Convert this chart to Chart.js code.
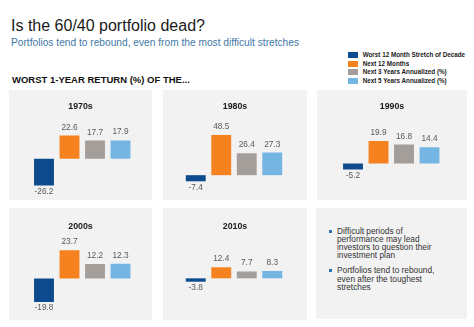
<!DOCTYPE html>
<html>
<head>
<meta charset="utf-8">
<script src="https://cdn.jsdelivr.net/npm/chart.js@4"></script>
<style>
  body { margin: 0; background: #fff; font-family: Arial, "Liberation Sans", sans-serif; }
  #page { position: relative; width: 474px; height: 327px; overflow: hidden; }
  .abs { position: absolute; white-space: nowrap; line-height: 1; }
  #title { left: 11px; top: 18px; font-size: 16px; color: #1a1a1a; }
  #subtitle { left: 11px; top: 38.3px; font-size: 10.2px; color: #3f79a8; }
  #heading { left: 12px; top: 74.5px; font-size: 9.5px; font-weight: bold; color: #111; }
  #legend { left: 348px; top: 51px; }
  .leg-row { height: 8.6px; display: flex; align-items: center; font-size: 6.3px; font-weight: bold; color: #1a1a1a; }
  .leg-box { width: 10px; height: 6px; margin-right: 4.7px; }
  .panel { position: absolute; background: #f2f2f2; }
  .panel canvas { position: absolute; left: 0; top: 0; }
  .ptitle { position: absolute; left: 0; right: 0; text-align: center; font-size: 8.8px; font-weight: bold; color: #1a1a1a; line-height: 1; }
  .notes { position: absolute; left: 21px; font-size: 8.3px; line-height: 8.2px; color: #333; }
  .notes::before { content: ""; position: absolute; left: -8.5px; top: 3px; width: 3px; height: 3px; background: #2e6fad; }
</style>
</head>
<body>
<div id="page">
  <div id="title" class="abs">Is the 60/40 portfolio dead?</div>
  <div id="subtitle" class="abs">Portfolios tend to rebound, even from the most difficult stretches</div>
  <div id="heading" class="abs">WORST 1-YEAR RETURN (%) OF THE...</div>
  <div id="legend" class="abs"></div>
  <div id="notes" class="panel" style="left:316px; top:208px; width:151px; height:111px;">
    <div class="notes" style="top:18.6px;">Difficult periods of<br>performance may lead<br>investors to question their<br>investment plan</div>
    <div class="notes" style="top:58.3px;">Portfolios tend to rebound,<br>even after the toughest<br>stretches</div>
  </div>
</div>
<script>
const decades = ['1970s', '1980s', '1990s', '2000s', '2010s'];
const seriesNames = ['Worst 12 Month Stretch of Decade', 'Next 12 Months', 'Next 3 Years Annualized (%)', 'Next 5 Years Annualized (%)'];
const worst12 = [-26.2, -7.4, -5.2, -19.8, -3.8];
const next12 = [22.6, 48.5, 19.9, 23.7, 12.4];
const next3y = [17.7, 26.4, 16.8, 12.2, 7.7];
const next5y = [17.9, 27.3, 14.4, 12.3, 8.3];
// each small chart has its own value axis range
const axisMin = [-35.6, -23.9, -27.8, -30.7, -41.2];
const axisMax = [37.9, 66.5, 38.6, 34, 45.3];

const colors = ['#0d4b8e', '#f5821f', '#a49e9a', '#74b5e3'];

// panel boxes: x, y, w, h, padding left/right, title offset
const panels = [
    { x: 9, y: 90, w: 143, h: 110, pl: 22.25, pr: 18.75, ty: 12.3 },
    { x: 163, y: 90, w: 144, h: 110, pl: 20, pr: 22, ty: 12.3 },
    { x: 317, y: 90, w: 150, h: 110, pl: 23.25, pr: 24.75, ty: 12.3 },
    { x: 9, y: 208, w: 143, h: 112, pl: 22.25, pr: 18.75, ty: 14.3 },
    { x: 163, y: 208, w: 144, h: 112, pl: 20, pr: 22, ty: 14.3 }
];

const page = document.getElementById('page');

// legend
const legend = document.getElementById('legend');
seriesNames.forEach((name, i) => {
    const row = document.createElement('div');
    row.className = 'leg-row';
    row.innerHTML = `<span class="leg-box" style="background:${colors[i]}"></span>${name}`;
    legend.appendChild(row);
});

// value labels above / below bars
const valueLabels = {
    id: 'valueLabels',
    afterDatasetsDraw(chart) {
        const ctx = chart.ctx;
        const meta = chart.getDatasetMeta(0);
        const values = chart.data.datasets[0].data;
        ctx.save();
        ctx.font = '8.3px Arial, "Liberation Sans", sans-serif';
        ctx.fillStyle = '#595959';
        ctx.textAlign = 'center';
        meta.data.forEach((bar, i) => {
            const v = values[i];
            if (v >= 0) {
                ctx.textBaseline = 'alphabetic';
                ctx.fillText(v.toFixed(1), bar.x, bar.y - 6);
            } else {
                ctx.textBaseline = 'top';
                ctx.fillText(v.toFixed(1), bar.x, bar.y + 2);
            }
        });
        ctx.restore();
    }
};

decades.forEach((decade, i) => {
    const p = panels[i];
    const box = document.createElement('div');
    box.className = 'panel';
    box.style.cssText = `left:${p.x}px; top:${p.y}px; width:${p.w}px; height:${p.h}px;`;
    const canvas = document.createElement('canvas');
    canvas.width = p.w;
    canvas.height = p.h;
    box.appendChild(canvas);
    const title = document.createElement('div');
    title.className = 'ptitle';
    title.style.top = p.ty + 'px';
    title.textContent = decade;
    box.appendChild(title);
    page.appendChild(box);

    new Chart(canvas.getContext('2d'), {
        type: 'bar',
        data: {
            labels: seriesNames,
            datasets: [{
                data: [worst12[i], next12[i], next3y[i], next5y[i]],
                backgroundColor: colors,
                barPercentage: 0.78,
                categoryPercentage: 1
            }]
        },
        options: {
            responsive: false,
            animation: false,
            events: [],
            layout: { padding: { left: p.pl, right: p.pr, top: 30, bottom: 5 } },
            plugins: {
                legend: { display: false },
                tooltip: { enabled: false }
            },
            scales: {
                x: { display: false },
                y: { display: false, min: axisMin[i], max: axisMax[i] }
            }
        },
        plugins: [valueLabels]
    });
});
</script>
</body>
</html>
